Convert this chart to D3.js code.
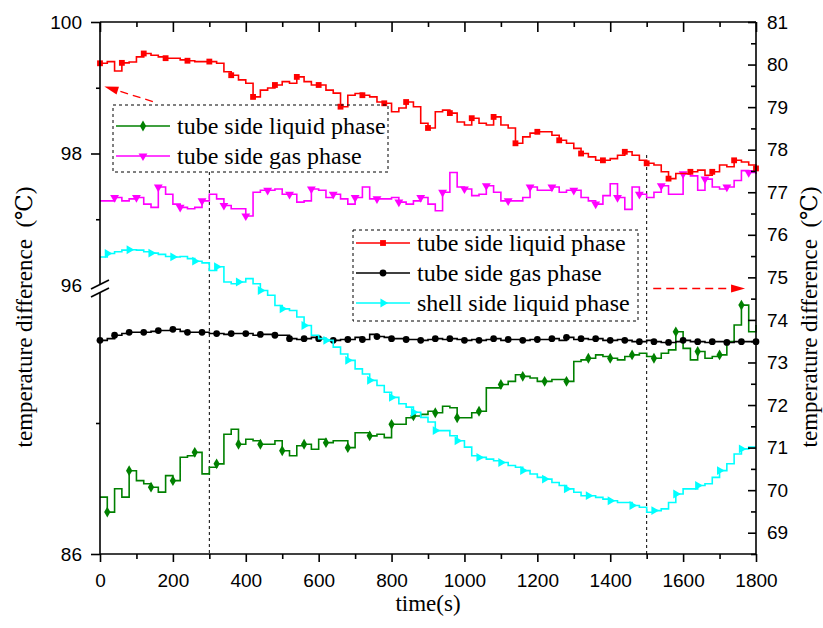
<!DOCTYPE html>
<html>
<head>
<meta charset="utf-8">
<script src="https://cdnjs.cloudflare.com/ajax/libs/d3/7.8.5/d3.min.js"></script>
<style>
    body { margin: 0; background: #fff; }
    svg { display: block; }
</style>
</head>
<body>
<div id="chart"></div>
<script>
    // time axis, one sample every 20 s
    const time = d3.range(0, 1801, 20);

    // left axis (upper part 96-100, lower part 86-96)
    const tubeLiquidLeft = [88.17, 87.60, 88.49, 88.17, 89.18, 88.80, 88.68, 88.55, 88.36, 88.99, 88.80, 89.69, 89.75, 89.88, 89.06, 89.31, 89.44, 90.57, 90.76, 90.19, 90.38, 90.32, 90.19, 90.19, 90.32, 89.94, 89.75, 90.13, 90.19, 90.00, 90.38,
        90.25, 90.32, 90.32, 90.06, 90.63, 90.63, 90.51, 90.57, 90.44, 90.95, 90.95, 91.20, 91.27, 91.33, 91.45, 91.39, 91.64, 91.58, 91.20, 91.20, 91.39, 91.45, 92.34, 92.34, 92.47, 92.59, 92.84, 92.78, 92.72, 92.59,
        92.59, 92.66, 92.66, 92.59, 93.35, 93.41, 93.47, 93.60, 93.54, 93.47, 93.41, 93.54, 93.60, 93.66, 93.54, 93.47, 93.66, 93.79, 94.48, 93.85, 93.41, 93.73, 93.47, 93.54, 93.60, 94.11, 94.74, 95.50, 94.48, 94.74];
    const tubeGasLeft = [97.28, 97.28, 97.33, 97.28, 97.31, 97.33, 97.23, 97.18, 97.49, 97.38, 97.23, 97.18, 97.16, 97.18, 97.28, 97.38, 97.31, 97.21, 97.16, 97.16, 97.05, 97.41, 97.44, 97.44, 97.46, 97.38, 97.38, 97.26, 97.28, 97.46, 97.44,
        97.33, 97.38, 97.31, 97.23, 97.33, 97.49, 97.31, 97.31, 97.31, 97.33, 97.26, 97.23, 97.28, 97.33, 97.23, 97.13, 97.41, 97.71, 97.49, 97.46, 97.36, 97.38, 97.51, 97.41, 97.28, 97.28, 97.28, 97.33, 97.49, 97.44,
        97.44, 97.49, 97.41, 97.44, 97.44, 97.33, 97.28, 97.23, 97.36, 97.54, 97.33, 97.15, 97.49, 97.38, 97.33, 97.41, 97.51, 97.38, 97.38, 97.69, 97.66, 97.44, 97.61, 97.49, 97.46, 97.49, 97.59, 97.74, 97.71, 97.69];

    // right axis
    const tubeLiquidRight = [80.03, 80.07, 79.85, 80.04, 80.06, 80.18, 80.26, 80.22, 80.18, 80.15, 80.15, 80.11, 80.09, 80.07, 80.07, 80.07, 80.03, 79.83, 79.75, 79.64, 79.56, 79.24, 79.40, 79.45, 79.52, 79.60, 79.56, 79.71, 79.60, 79.52, 79.52,
        79.40, 79.33, 79.01, 79.28, 79.32, 79.28, 79.24, 79.12, 79.09, 78.89, 78.98, 79.12, 79.01, 78.62, 78.51, 78.89, 78.93, 78.86, 78.65, 78.58, 78.74, 78.62, 78.58, 78.77, 78.58, 78.51, 78.15, 78.30, 78.39, 78.42,
        78.42, 78.34, 78.22, 78.15, 78.03, 77.91, 77.83, 77.75, 77.75, 77.79, 77.87, 77.95, 77.87, 77.75, 77.68, 77.64, 77.48, 77.32, 77.44, 77.44, 77.48, 77.52, 77.40, 77.48, 77.64, 77.60, 77.75, 77.71, 77.64, 77.56];
    const tubeGasRight = [73.52, 73.56, 73.64, 73.68, 73.71, 73.71, 73.71, 73.73, 73.75, 73.75, 73.78, 73.73, 73.71, 73.71, 73.71, 73.68, 73.68, 73.66, 73.68, 73.68, 73.68, 73.64, 73.66, 73.66, 73.64, 73.64, 73.56, 73.54, 73.56, 73.59, 73.56,
        73.52, 73.52, 73.54, 73.54, 73.59, 73.54, 73.66, 73.61, 73.59, 73.56, 73.56, 73.54, 73.54, 73.52, 73.54, 73.56, 73.54, 73.56, 73.54, 73.52, 73.54, 73.52, 73.54, 73.56, 73.52, 73.54, 73.54, 73.52, 73.54, 73.54,
        73.54, 73.56, 73.52, 73.59, 73.54, 73.56, 73.54, 73.56, 73.52, 73.52, 73.54, 73.52, 73.49, 73.49, 73.52, 73.49, 73.47, 73.47, 73.49, 73.52, 73.49, 73.49, 73.47, 73.49, 73.49, 73.47, 73.49, 73.49, 73.49, 73.49];
    const shellLiquidRight = [75.48, 75.56, 75.60, 75.64, 75.65, 75.64, 75.60, 75.57, 75.54, 75.49, 75.48, 75.49, 75.44, 75.38, 75.34, 75.16, 75.25, 74.89, 74.85, 74.89, 74.97, 74.85, 74.69, 74.58, 74.34, 74.26, 74.22, 74.07, 73.87, 73.64, 73.56,
        73.52, 73.36, 73.20, 73.05, 72.85, 72.73, 72.58, 72.46, 72.30, 72.18, 72.03, 71.95, 71.83, 71.71, 71.60, 71.40, 71.40, 71.28, 71.16, 71.01, 70.81, 70.77, 70.73, 70.69, 70.65, 70.58, 70.54, 70.46, 70.38, 70.30,
        70.26, 70.18, 70.11, 70.03, 69.95, 69.87, 69.87, 69.83, 69.79, 69.75, 69.71, 69.71, 69.64, 69.60, 69.48, 69.52, 69.56, 69.71, 69.91, 70.03, 70.03, 70.11, 70.15, 70.30, 70.46, 70.62, 70.85, 70.97, 71.01, 71.01];

    // tick labels
    const xTicks = [0, 200, 400, 600, 800, 1000, 1200, 1400, 1600, 1800];
    const xMinor = [100, 300, 500, 700, 900, 1100, 1300, 1500, 1700];
    const leftTopTicks = [98, 100];
    const leftTopMinor = [97, 99];
    const leftBottomTicks = [86];
    const leftBottomMinor = [91];
    const rightTicks = [69, 70, 71, 72, 73, 74, 75, 76, 77, 78, 79, 80, 81];
    const rightMinor = [68.5, 69.5, 70.5, 71.5, 72.5, 73.5, 74.5, 75.5, 76.5, 77.5, 78.5, 79.5, 80.5];
    const markedLines = [300, 1500];

    const SANS = '"Liberation Sans", Arial, Helvetica, sans-serif';
    const SERIF = '"Liberation Serif", "Times New Roman", Times, "DejaVu Serif", serif';

    const W = 823, H = 628;
    const pL = 100, pR = 756, pT = 22, pB = 554;

    const svg = d3.select('#chart').append('svg')
        .attr('width', W).attr('height', H);

    const x = d3.scaleLinear().domain([0, 1800]).range([pL, pR]);
    const yR = d3.scaleLinear().domain([68.5, 81]).range([pB, pT]);
    const yTop = d3.scaleLinear().domain([96, 100]).range([285, pT]);
    const yBot = d3.scaleLinear().domain([86, 96]).range([pB, 292]);

    // vertical dashed guide lines
    svg.selectAll('.guide').data(markedLines).join('line')
        .attr('x1', d => x(d)).attr('x2', d => x(d))
        .attr('y1', (d, i) => i === 0 ? 172 : 155).attr('y2', pB)
        .attr('stroke', '#000').attr('stroke-width', 1).attr('stroke-dasharray', '3,3');

    // series
    const series = [
        {name: 'tube side liquid phase', values: tubeLiquidLeft, y: yBot, color: '#008000', sym: d3.symbolDiamond, rot: 0, every: 3, off: 1},
        {name: 'tube side gas phase', values: tubeGasLeft, y: yTop, color: '#ff00ff', sym: d3.symbolTriangle, rot: 180, every: 3, off: 2},
        {name: 'tube side liquid phase', values: tubeLiquidRight, y: yR, color: '#ff0000', sym: d3.symbolSquare, rot: 0, every: 3, off: 0},
        {name: 'tube side gas phase', values: tubeGasRight, y: yR, color: '#000000', sym: d3.symbolCircle, rot: 0, every: 2, off: 0},
        {name: 'shell side liquid phase', values: shellLiquidRight, y: yR, color: '#00ffff', sym: d3.symbolTriangle, rot: 90, every: 3, off: 1}
    ];

    series.forEach(s => {
        const pts = time.map((t, i) => ({t: t, v: s.values[i], i: i}));
        const line = d3.line().x(d => x(d.t)).y(d => s.y(d.v)).curve(d3.curveStepAfter);
        svg.append('path').datum(pts)
            .attr('d', line)
            .attr('fill', 'none').attr('stroke', s.color).attr('stroke-width', 1.6);
        svg.append('g').selectAll('path')
            .data(pts.filter(d => d.i % s.every === s.off))
            .join('path')
            .attr('d', d3.symbol().type(s.sym).size(s.sym === d3.symbolCircle ? 36 : 34))
            .attr('transform', d => `translate(${x(d.t)},${s.y(d.v)}) rotate(${s.rot})`)
            .attr('fill', s.color);
    });

    // axes
    const lineStyle = g => {
        g.select('.domain').remove();
        g.selectAll('.tick line').attr('stroke', '#000').attr('stroke-width', 1.6);
        g.selectAll('.tick text').style('font-family', SANS).style('font-size', '19px').attr('fill', '#000');
    };
    const fmt = d3.format('d');

    svg.append('g').attr('transform', `translate(0,${pB})`)
        .call(d3.axisBottom(x).tickValues(xTicks).tickSize(8).tickPadding(12).tickFormat(fmt))
        .call(lineStyle);
    svg.append('g').attr('transform', `translate(0,${pB})`)
        .call(d3.axisBottom(x).tickValues(xMinor).tickSize(5).tickFormat(''))
        .call(lineStyle);
    svg.append('g').attr('transform', `translate(0,${pT})`)
        .call(d3.axisTop(x).tickValues(xTicks).tickSize(-10).tickFormat(''))
        .call(lineStyle);
    svg.append('g').attr('transform', `translate(0,${pT})`)
        .call(d3.axisTop(x).tickValues(xMinor).tickSize(-5).tickFormat(''))
        .call(lineStyle);

    svg.append('g').attr('transform', `translate(${pL},0)`)
        .call(d3.axisLeft(yTop).tickValues(leftTopTicks).tickSize(9).tickPadding(9).tickFormat(fmt))
        .call(lineStyle);
    svg.append('g').attr('transform', `translate(${pL},0)`)
        .call(d3.axisLeft(yTop).tickValues([96]).tickSize(0).tickPadding(18).tickFormat(fmt))
        .call(lineStyle);
    svg.append('g').attr('transform', `translate(${pL},0)`)
        .call(d3.axisLeft(yTop).tickValues(leftTopMinor).tickSize(4).tickFormat(''))
        .call(lineStyle);
    svg.append('g').attr('transform', `translate(${pL},0)`)
        .call(d3.axisLeft(yBot).tickValues(leftBottomTicks).tickSize(9).tickPadding(9).tickFormat(fmt))
        .call(lineStyle);
    svg.append('g').attr('transform', `translate(${pL},0)`)
        .call(d3.axisLeft(yBot).tickValues(leftBottomMinor).tickSize(4).tickFormat(''))
        .call(lineStyle);

    svg.append('g').attr('transform', `translate(${pR},0)`)
        .call(d3.axisRight(yR).tickValues(rightTicks).tickSize(-8).tickPadding(11).tickFormat(fmt))
        .call(lineStyle);
    svg.append('g').attr('transform', `translate(${pR},0)`)
        .call(d3.axisRight(yR).tickValues(rightMinor).tickSize(-5).tickFormat(''))
        .call(lineStyle);

    // frame, with a break on the left axis
    const frame = svg.append('g').attr('stroke', '#000').attr('stroke-width', 1.6).attr('fill', 'none');
    frame.append('line').attr('x1', pL).attr('x2', pR).attr('y1', pT).attr('y2', pT);
    frame.append('line').attr('x1', pL).attr('x2', pR).attr('y1', pB).attr('y2', pB);
    frame.append('line').attr('x1', pR).attr('x2', pR).attr('y1', pT).attr('y2', pB);
    frame.append('line').attr('x1', pL).attr('x2', pL).attr('y1', pT).attr('y2', 285);
    frame.append('line').attr('x1', pL).attr('x2', pL).attr('y1', 292).attr('y2', pB);
    frame.append('line').attr('x1', pL - 9).attr('x2', pL + 9).attr('y1', 289).attr('y2', 280);
    frame.append('line').attr('x1', pL - 9).attr('x2', pL + 9).attr('y1', 297).attr('y2', 288);

    // legends
    function legend(items, bx, by, bw, bh, rowY) {
        const g = svg.append('g');
        g.append('rect').attr('x', bx).attr('y', by).attr('width', bw).attr('height', bh)
            .attr('fill', 'none').attr('stroke', '#000').attr('stroke-width', 1).attr('stroke-dasharray', '3,3');
        items.forEach((s, i) => {
            const yy = rowY + i * 30;
            g.append('line').attr('x1', bx + 3).attr('x2', bx + 57).attr('y1', yy).attr('y2', yy)
                .attr('stroke', s.color).attr('stroke-width', 1.6);
            g.append('path')
                .attr('d', d3.symbol().type(s.sym).size(s.sym === d3.symbolCircle ? 36 : 34))
                .attr('transform', `translate(${bx + 30},${yy}) rotate(${s.rot})`)
                .attr('fill', s.color);
            g.append('text').style('font-family', SERIF).style('font-size', '24px')
                .attr('x', bx + 64).attr('y', yy).attr('dy', '0.35em')
                .text(s.name);
        });
    }
    legend(series.slice(0, 2), 113, 105, 275, 67, 126);
    legend(series.slice(2), 353, 230, 285, 91, 243);

    // red arrows pointing to the axes
    function arrow(t0, v0, t1, v1, sc) {
        const x0 = x(t0), y0 = sc(v0), x1 = x(t1), y1 = sc(v1);
        const a = Math.atan2(y1 - y0, x1 - x0);
        const hl = 14, hw = 4;
        const bxp = x1 - hl * Math.cos(a), byp = y1 - hl * Math.sin(a);
        svg.append('line').attr('x1', x0).attr('y1', y0).attr('x2', bxp).attr('y2', byp)
            .attr('stroke', '#ff0000').attr('stroke-width', 1.4).attr('stroke-dasharray', '8,5');
        svg.append('polygon')
            .attr('points', [[x1, y1],
                [bxp + hw * Math.sin(a), byp - hw * Math.cos(a)],
                [bxp - hw * Math.sin(a), byp + hw * Math.cos(a)]].map(p => p.join(',')).join(' '))
            .attr('fill', '#ff0000');
    }
    arrow(145, 98.79, 12, 99.02, yTop);
    arrow(1518, 74.74, 1770, 74.74, yR);

    // axis titles
    svg.append('text').style('font-family', SERIF).style('font-size', '23px')
        .attr('x', (pL + pR) / 2).attr('y', 611).attr('text-anchor', 'middle')
        .text('time(s)');
    [24, 809].forEach(tx => {
        svg.append('text').style('font-family', SERIF).style('font-size', '23px').style('white-space', 'pre')
            .attr('transform', `translate(${tx},317) rotate(-90)`).attr('dy', '0.35em')
            .attr('text-anchor', 'middle')
            .text('temperature difference  (℃)');
    });
</script>
</body>
</html>
